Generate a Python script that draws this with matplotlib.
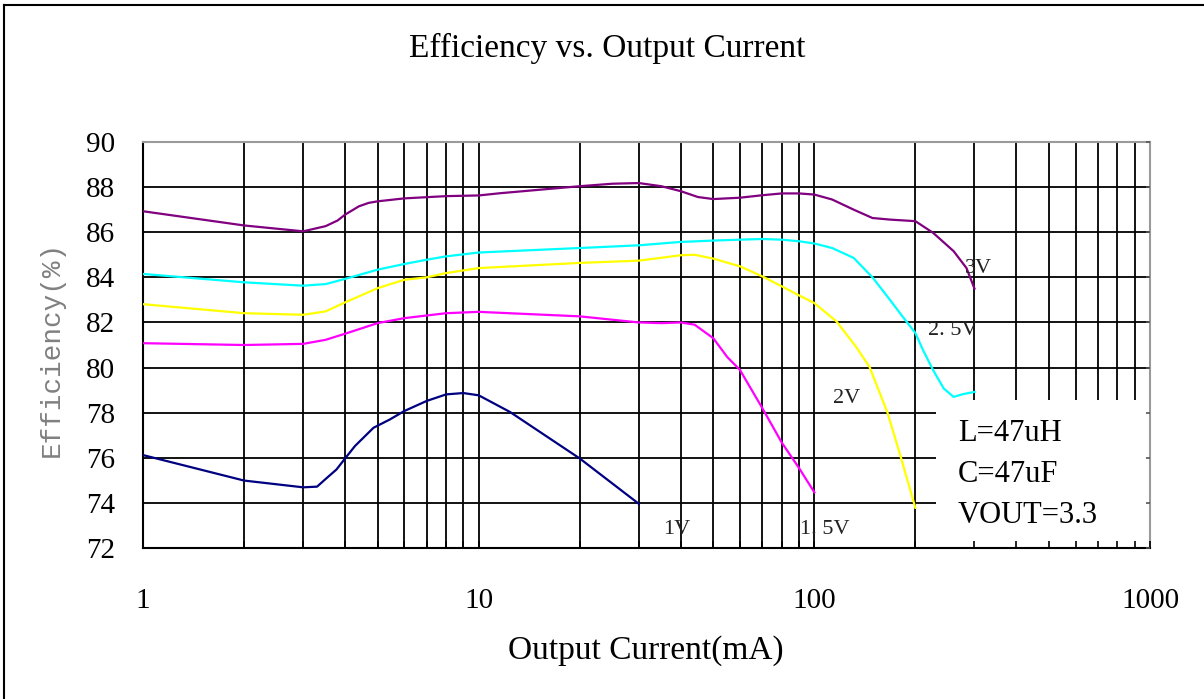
import matplotlib
matplotlib.use("Agg")
import matplotlib.pyplot as plt
from matplotlib.ticker import FixedLocator, NullFormatter
from matplotlib.patches import Rectangle
from matplotlib.lines import Line2D

# ---------------- data ----------------
x_3v = [1, 2, 3, 3.5, 3.8, 4, 4.4, 4.7, 5, 6, 8, 10, 11.6, 20, 25, 30, 35, 40, 45, 50, 60, 70,
        80, 90, 100, 113, 131, 149, 168, 200, 226, 260, 284, 300]
y_3v = [86.93, 86.30, 86.04, 86.27, 86.52, 86.78, 87.15, 87.30, 87.37, 87.50, 87.60, 87.63, 87.73,
        88.04, 88.15, 88.18, 88.04, 87.82, 87.56, 87.47, 87.53, 87.64, 87.72, 87.72, 87.67,
        87.45, 87.00, 86.63, 86.56, 86.49, 85.97, 85.16, 84.41, 83.50]

x_25v = [1, 2, 3, 3.5, 4, 5, 6, 7, 8, 10, 20, 30, 40, 50, 60, 70, 80, 90, 100, 113, 131,
         149, 168, 183, 200, 211, 226, 243, 260, 277, 300]
y_25v = [84.15, 83.78, 83.63, 83.70, 83.93, 84.34, 84.59, 84.78, 84.93, 85.10, 85.30, 85.42,
         85.57, 85.63, 85.67, 85.70, 85.67, 85.60, 85.50, 85.30, 84.86, 84.00, 83.00, 82.27,
         81.53, 80.76, 79.88, 79.07, 78.70, 78.82, 78.92]

x_2v = [1, 2, 3, 3.5, 4, 5, 6, 7, 8, 10, 20, 30, 36, 40, 44, 50, 60, 70, 80, 90, 100,
        116.5, 133, 146, 165, 180, 200]
y_2v = [82.81, 82.41, 82.34, 82.49, 82.89, 83.52, 83.89, 84.00, 84.19, 84.41, 84.64, 84.74,
        84.89, 84.98, 85.00, 84.83, 84.49, 84.04, 83.60, 83.20, 82.86, 82.04, 80.93, 80.03,
        78.02, 76.15, 73.78]

x_15v = [1, 2, 3, 3.5, 4, 5, 6, 8, 10, 20, 30, 35, 40, 44, 50, 55, 60, 70, 80, 90, 100]
y_15v = [81.08, 81.00, 81.05, 81.23, 81.50, 81.97, 82.19, 82.41, 82.47, 82.27, 82.00, 81.97,
         82.00, 81.90, 81.30, 80.47, 79.90, 78.20, 76.67, 75.55, 74.47]

x_1v = [1, 2, 3, 3.3, 3.5, 3.77, 4, 4.28, 4.86, 5.44, 6, 7, 8, 9, 10, 12.4, 20, 30]
y_1v = [76.12, 74.99, 74.69, 74.72, 75.06, 75.48, 75.97, 76.52, 77.33, 77.70, 78.07, 78.52,
        78.81, 78.87, 78.77, 78.03, 75.97, 73.96]

series_names = ["3V", "2. 5V", "2V", "1V", "1. 5V"]
x_ticks = [1, 10, 100, 1000]
x_tick_labels = ["1", "10", "100", "1000"]
y_ticks = [72, 74, 76, 78, 80, 82, 84, 86, 88, 90]
note_lines = ["L=47uH", "C=47uF", "VOUT=3.3"]

# ---------------- figure ----------------
W, H = 1204, 699
fig = plt.figure(figsize=(W / 100, H / 100), dpi=100)
serif = "Liberation Serif"
mono = "Liberation Mono"

pos = [143 / W, 1 - 548 / H, 1007 / W, 406 / H]
minor_pos = [m * d for d in (1, 10, 100) for m in range(2, 10)]

ax = fig.add_axes(pos)
ax.set_xscale("log")
ax.set_xlim(1, 1000)
ax.set_ylim(72, 90)
ax.xaxis.set_major_locator(FixedLocator(x_ticks))
ax.xaxis.set_minor_locator(FixedLocator(minor_pos))
ax.xaxis.set_minor_formatter(NullFormatter())
ax.set_xticks(x_ticks)
ax.set_xticklabels(x_tick_labels, fontfamily=serif, fontsize=21)
ax.set_yticks(y_ticks)
ax.set_yticklabels([str(v) for v in y_ticks], fontfamily=serif, fontsize=21)
ax.tick_params(axis="both", which="both", length=0)
ax.tick_params(axis="x", pad=29)
ax.tick_params(axis="y", pad=20)
ax.set_axisbelow(True)
ax.grid(True, which="both", axis="x", color="black", linewidth=1.3)
ax.grid(True, which="major", axis="y", color="black", linewidth=1.3)
for side in ("left", "bottom"):
    ax.spines[side].set_color("black")
    ax.spines[side].set_linewidth(1.5)
for side in ("top", "right"):
    ax.spines[side].set_color("#9a9a9a")
    ax.spines[side].set_linewidth(1.5)

lw = 1.6
ax.plot(x_3v, y_3v, color="#800080", lw=lw, zorder=3, solid_joinstyle="round")
ax.plot(x_25v, y_25v, color="#00FFFF", lw=lw, zorder=3, solid_joinstyle="round")
ax.plot(x_2v, y_2v, color="#FFFF00", lw=lw, zorder=3, solid_joinstyle="round")
ax.plot(x_15v, y_15v, color="#FF00FF", lw=lw, zorder=3, solid_joinstyle="round")
ax.plot(x_1v, y_1v, color="#000080", lw=lw, zorder=3, solid_joinstyle="round")

# white note box
box = Rectangle((0.7875, 0.0), 0.2115, (548 - 400) / 406, transform=ax.transAxes,
                facecolor="white", edgecolor="none", zorder=1)
ax.add_patch(box)
for txt, yy in zip(note_lines, [0.281, 0.180, 0.081]):
    ax.text(0.809, yy, txt, transform=ax.transAxes, fontfamily=serif, fontsize=22,
            va="center", ha="left", zorder=4)

# curve labels
lab_pos = [(281, 84.41), (218, 81.66), (113.6, 78.65), (35.4, 72.84), (90.6, 72.8)]
for name, (lx, ly) in zip(series_names, lab_pos):
    ax.text(lx, ly, name, fontfamily=serif, fontsize=16, color="#222222",
            va="center", ha="left", zorder=4)

# overlay axes just for small inward ticks (drawn above the box)
ax2 = fig.add_axes(pos)
ax2.set_xscale("log")
ax2.set_xlim(1, 1000)
ax2.set_ylim(72, 90)
ax2.patch.set_visible(False)
for s in ax2.spines.values():
    s.set_visible(False)
ax2.xaxis.set_major_locator(FixedLocator(x_ticks))
ax2.xaxis.set_minor_locator(FixedLocator(minor_pos))
ax2.xaxis.set_major_formatter(NullFormatter())
ax2.xaxis.set_minor_formatter(NullFormatter())
ax2.set_yticks(y_ticks)
ax2.yaxis.set_major_formatter(NullFormatter())
ax2.tick_params(axis="x", which="both", direction="in", length=5, width=1.2, color="black")
ax2.tick_params(axis="y", which="both", direction="in", length=3, width=1.2,
                left=False, right=True, color="#555555")

# texts
fig.text(607 / W, 1 - 48 / H, "Efficiency vs. Output Current", fontfamily=serif,
         fontsize=24, ha="center", va="center")
fig.text(646 / W, 1 - 651 / H, "Output Current(mA)", fontfamily=serif,
         fontsize=24, ha="center", va="center")
fig.text(52 / W, 1 - 349 / H, "Efficiency(%)", fontfamily=mono, fontsize=20,
         color="#808080", rotation=90, ha="center", va="center")

# outer frame (top and left edges)
fig.add_artist(Line2D([4 / W, 1.0], [1 - 5 / H, 1 - 5 / H], transform=fig.transFigure,
                      color="black", lw=1.5))
fig.add_artist(Line2D([4 / W, 4 / W], [0.0, 1 - 5 / H], transform=fig.transFigure,
                      color="black", lw=1.5))

fig.savefig("out.png", dpi=100, facecolor="white")
